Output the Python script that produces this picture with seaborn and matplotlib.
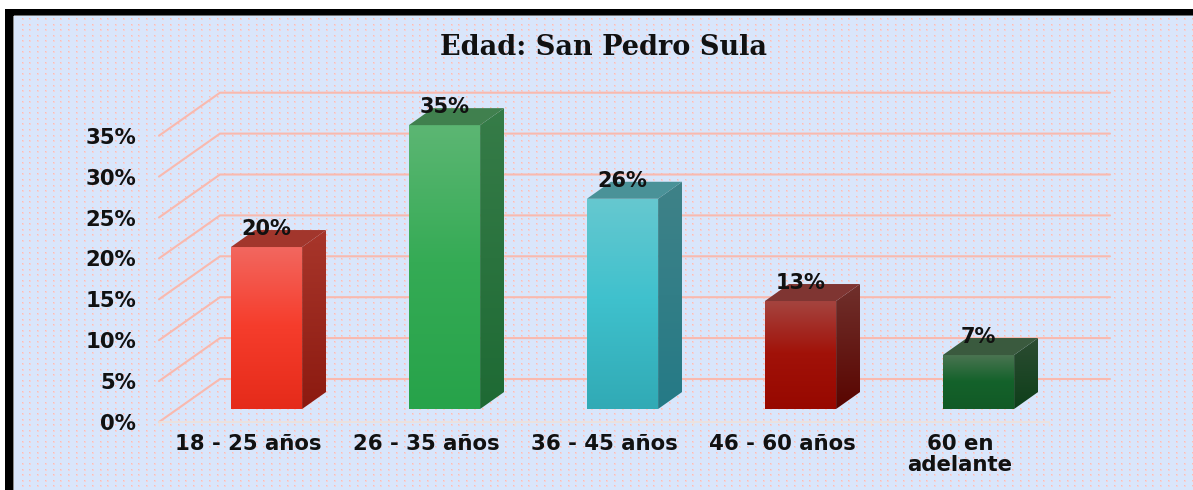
import numpy as np
import matplotlib
matplotlib.use("Agg")
import matplotlib.pyplot as plt
from matplotlib.colors import LinearSegmentedColormap
from matplotlib.patches import Polygon
import seaborn as sns

# chart data
categories = ["18 - 25 años", "26 - 35 años", "36 - 45 años", "46 - 60 años", "60 en\nadelante"]
values = [19.8, 34.7, 25.7, 13.2, 6.6]
y_ticks = [0, 5, 10, 15, 20, 25, 30, 35]
y_tick_labels = ["0%", "5%", "10%", "15%", "20%", "25%", "30%", "35%"]
title = "Edad: San Pedro Sula"

# colours: front (top, middle, base), side (top, base), roof
front_colors = [
    ["#f2675f", "#f63d2c", "#e52b1a"],
    ["#5cb673", "#35ab55", "#27a34a"],
    ["#66c8d0", "#3fc1cd", "#31aab5"],
    ["#a5443f", "#a11209", "#970800"],
    ["#4a7451", "#14622b", "#125a26"],
]
side_colors = [
    ["#a8362b", "#8c1a10"],
    ["#367c48", "#1e6a34"],
    ["#3f8288", "#257a86"],
    ["#70302c", "#590500"],
    ["#2c4c32", "#0e3f1a"],
]
roof_colors = ["#a2362c", "#40804e", "#4a9298", "#7f3532", "#3a5a3e"]
grid_color = "#f9b9ae"

W, H = 1193, 490
sns.set_theme(style="white")
plt.rcParams["font.family"] = "DejaVu Sans"
fig = plt.figure(figsize=(W / 100, H / 100), dpi=100, facecolor="white")

# panel background: blue with pink dots and the black frame top and left
bg = np.ones((H, W, 3))
bg[10:, 5:] = 0.0
bg[17:, 14:] = np.array([0xd9, 0xe6, 0xfb]) / 255
bg[16, 14:] = 0.45
bg[17:, 13] = 0.55
dot_rows = np.round(np.arange(19, H, 5.55)).astype(int)
dot_cols = np.round(np.arange(21.5, W, 7.8)).astype(int)
for r in dot_rows:
    for c in dot_cols:
        bg[r:r + 2, c:c + 2] = np.array([0xf3, 0xd2, 0xd6]) / 255
        bg[r, c] = np.array([0xf6, 0xbe, 0xb8]) / 255
ax_bg = fig.add_axes([0, 0, 1, 1], zorder=0)
ax_bg.imshow(bg, interpolation="nearest", aspect="auto")
ax_bg.axis("off")

# front plane of the chart, pixel box 159..1049 wide with 8.18 px per percent
px_per_pct = 8.18
ymax = 46
ax_left, ax_right, ax_base = 159, 1049, 422
ax = fig.add_axes([ax_left / W, (H - ax_base) / H, (ax_right - ax_left) / W, ymax * px_per_pct / H], zorder=1)
ax.patch.set_alpha(0)

df_colors = {c: f[1] for c, f in zip(categories, front_colors)}
sns.barplot(x=categories, y=values, hue=categories, palette=df_colors, legend=False,
            width=0.4, saturation=1, ax=ax, zorder=3)
ax.set_xlim(-0.5, 4.5)
ax.set_ylim(0, ymax)
ax.set_autoscale_on(False)

cat_px = (ax_right - ax_left) / 5
wall_dx, wall_dy = 61 / cat_px, 43 / px_per_pct    # offset of the back wall
bar_dx, bar_dy = 18.5 / cat_px, 13 / px_per_pct    # bars stand inside the floor
depth_x, depth_y = 24 / cat_px, 17 / px_per_pct    # depth of each bar

# back wall lines and the slanted part from the tick to the wall
for t in y_ticks:
    ax.plot([-0.5, -0.5 + wall_dx, 4.5 + wall_dx], [t, t + wall_dy, t + wall_dy],
            color=grid_color, lw=1.5, clip_on=False, zorder=1, solid_joinstyle="miter")


def shade(verts, colors, z):
    # fill a polygon with a vertical gradient, top colour first
    poly = Polygon(verts, closed=True, fc="none", ec="none", transform=ax.transData)
    ax.add_patch(poly)
    cmap = LinearSegmentedColormap.from_list("g", colors)
    xs, ys = zip(*verts)
    im = ax.imshow(np.linspace(0, 1, 128).reshape(-1, 1), cmap=cmap, aspect="auto", zorder=z,
                   extent=(min(xs), max(xs), min(ys), max(ys)), origin="upper", interpolation="bilinear")
    im.set_clip_path(poly)


for i, bar in enumerate(ax.patches):
    x0 = bar.get_x() + bar_dx
    x1 = x0 + bar.get_width()
    h = bar.get_height() + bar_dy
    bar.set_visible(False)
    # the light top fades out over the upper part of the bar
    front = [(0.0, front_colors[i][0]), (0.48, front_colors[i][1]), (1.0, front_colors[i][2])]
    shade([(x0, bar_dy), (x1, bar_dy), (x1, h), (x0, h)], front, 4)
    shade([(x1, bar_dy), (x1 + depth_x, bar_dy + depth_y), (x1 + depth_x, h + depth_y), (x1, h)], side_colors[i], 4)
    ax.add_patch(Polygon([(x0, h), (x1, h), (x1 + depth_x, h + depth_y), (x0 + depth_x, h + depth_y)],
                         closed=True, fc=roof_colors[i], ec="none", zorder=4))
    ax.annotate(f"{round(values[i])}%", xy=((x0 + x1) / 2, h), xytext=(0, 18), textcoords="offset pixels",
                ha="center", va="center", fontsize=15, fontweight="bold", color="#111111",
                zorder=6, annotation_clip=False)

# axes, ticks and text
sns.despine(ax=ax, left=True, top=True, right=True)
ax.spines["bottom"].set_color("#efe2da")
ax.spines["bottom"].set_linewidth(1.2)
ax.set_yticks(y_ticks, y_tick_labels)
ax.tick_params(axis="y", length=0, pad=16.5, labelsize=15.3, labelcolor="#111111")
ax.set_xticks(range(len(categories)), categories)
ax.set_xticks(np.arange(-0.5, 5), minor=True)
ax.tick_params(axis="x", which="major", length=0, pad=8.5, labelsize=15.3, labelcolor="#111111")
ax.tick_params(axis="x", which="minor", length=3, width=1, color="#efe2da", bottom=True)
for lab in ax.get_xticklabels() + ax.get_yticklabels():
    lab.set_fontweight("bold")
    lab.set_linespacing(1.05)
ax.set_title(title, family="DejaVu Serif", fontweight="bold", fontsize=19.5, color="#111111", pad=-7)
ax.set_xlabel("")
ax.set_ylabel("")
ax.grid(False)

fig.savefig("out.png", dpi=100)
